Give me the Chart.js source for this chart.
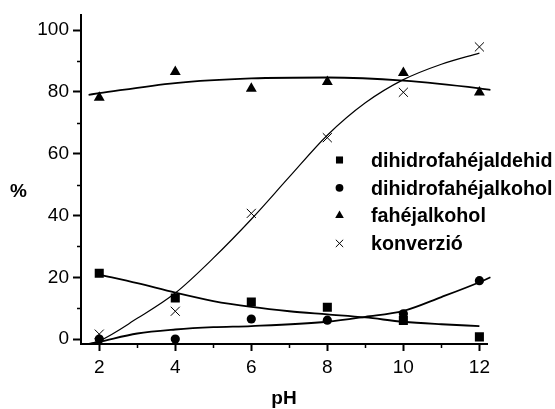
<html><head>
<script src="https://cdn.jsdelivr.net/npm/chart.js@4/dist/chart.umd.min.js"></script>
<style>
  body { margin: 0; background: #fff; }
</style>
</head>
<body>
<canvas id="ph-chart" width="555" height="409"></canvas>
<script>

// measured points
var phValues = [2, 4, 6, 8, 10, 12];
var aldehid = [21.3, 13.3, 12.0, 10.3, 6.0, 0.7];
var alkohol = [0, 0, 6.5, 6.1, 8.2, 18.9];
var fahejalkohol = [78.2, 86.5, 81.1, 83.3, 86.2, 79.9];
var konverzio = [1.6, 9.0, 40.7, 65.2, 79.9, 94.6];

var labels = ["dihidrofahéjaldehid", "dihidrofahéjalkohol", "fahéjalkohol", "konverzió"];

// fitted curves, [pH, %]
var aldehidFit = [[2, 20.9], [3, 18.1], [4, 15.0], [5, 12.3], [6, 10.4], [7, 9.0], [8, 8.0], [9, 7.0], [10, 5.6], [11, 4.8], [12, 4.2]];
var alkoholFit = [[1.72, -1.6], [2, -0.9], [3, 1.8], [4, 3.1], [5, 3.85], [6, 4.2], [8, 5.6], [9, 7.2], [10, 9.1], [11, 13.6], [12, 18.4], [12.29, 20]];
var fahejFit = [[1.72, 79.1], [2, 79.6], [4, 82.9], [6, 84.4], [8, 84.7], [10, 83.7], [12, 81.2], [12.29, 80.7]];
var konverzioFit = [[1.72, -1.6], [2, -0.6], [3, 6.7], [4, 14.9], [5, 26.2], [6, 38.8], [7, 52.5], [8, 66], [9, 76.5], [10, 84], [11, 89], [12, 92.6]];

var xTicks = [2, 4, 6, 8, 10, 12];
var xMinor = [3, 5, 7, 9, 11];
var yTicks = [0, 20, 40, 60, 80, 100];
var yMinor = [10, 30, 50, 70, 90];

var FONT = "'Liberation Sans', Arial, sans-serif";

function pts(ys) {
  return phValues.map(function (x, i) { return { x: x, y: ys[i] }; });
}
function curve(arr) {
  return arr.map(function (p) { return { x: p[0], y: p[1] }; });
}

var markers = [
  { style: 'rect', r: 6.4 },
  { style: 'circle', r: 4.6 },
  { style: 'triangle', r: 6.3 },
  { style: 'crossRot', r: 6.4 }
];

function markerSet(label, ys, m) {
  return {
    type: 'scatter',
    label: label,
    data: pts(ys),
    showLine: false,
    pointStyle: m.style,
    pointRadius: m.r,
    pointBackgroundColor: '#000',
    pointBorderColor: '#000',
    pointBorderWidth: m.style === 'crossRot' ? 1 : 0,
    order: 1
  };
}

function fitLine(arr, width) {
  return {
    type: 'line',
    label: '',
    data: curve(arr),
    borderColor: '#000',
    borderWidth: width,
    pointRadius: 0,
    cubicInterpolationMode: 'monotone',
    fill: false,
    clip: false,
    order: 2
  };
}

// minor ticks, axis titles and the legend block
var extras = {
  id: 'extras',
  afterDraw: function (chart) {
    var ctx = chart.ctx;
    var xs = chart.scales.x, ys = chart.scales.y;
    ctx.save();
    ctx.strokeStyle = '#000';
    ctx.lineWidth = 1.5;
    ctx.beginPath();
    yMinor.forEach(function (v) {
      var py = Math.round(ys.getPixelForValue(v)) + 0.5;
      ctx.moveTo(xs.left - 4, py);
      ctx.lineTo(xs.left, py);
    });
    xMinor.forEach(function (v) {
      var px = Math.round(xs.getPixelForValue(v)) + 0.5;
      ctx.moveTo(px, ys.bottom);
      ctx.lineTo(px, ys.bottom + 4);
    });
    ctx.stroke();

    ctx.fillStyle = '#000';
    ctx.font = 'bold 19px ' + FONT;
    ctx.textAlign = 'center';
    ctx.textBaseline = 'alphabetic';
    ctx.fillText('%', 18.5, 197);
    ctx.fillText('pH', (chart.chartArea.left + chart.chartArea.right) / 2, 404);

    // legend
    var lx = 339.5, ly = 160, step = 27.8;
    ctx.textAlign = 'left';
    ctx.font = 'bold 19.7px ' + FONT;
    chart.data.datasets.forEach(function (ds) {
      if (!ds.label) return;
      var st = ds.pointStyle;
      var r = st === 'circle' ? 3.9 : (st === 'crossRot' ? 5.2 : 5);
      ctx.fillStyle = '#000';
      ctx.strokeStyle = '#000';
      ctx.lineWidth = 1;
      Chart.helpers.drawPoint(ctx, { pointStyle: st, radius: r, borderWidth: st === 'crossRot' ? 1 : 0 }, lx, ly);
      ctx.fillStyle = '#000';
      ctx.fillText(ds.label, 371, ly + 6.8);
      ly += step;
    });
    ctx.restore();
  }
};

var axisGrid = {
  display: true,
  drawOnChartArea: false,
  drawTicks: true,
  tickLength: 8,
  tickWidth: 2,
  tickColor: '#000',
  color: '#000'
};

new Chart(document.getElementById('ph-chart'), {
  data: {
    datasets: [
      markerSet(labels[0], aldehid, markers[0]),
      markerSet(labels[1], alkohol, markers[1]),
      markerSet(labels[2], fahejalkohol, markers[2]),
      markerSet(labels[3], konverzio, markers[3]),
      fitLine(aldehidFit, 1.8),
      fitLine(alkoholFit, 1.8),
      fitLine(fahejFit, 1.8),
      fitLine(konverzioFit, 1.2)
    ]
  },
  options: {
    responsive: false,
    animation: false,
    layout: { padding: { left: 0, right: 68, top: 13, bottom: 0 } },
    plugins: {
      legend: { display: false },
      tooltip: { enabled: false }
    },
    scales: {
      x: {
        type: 'linear',
        min: 1.52,
        max: 12.2,
        border: { display: true, color: '#000', width: 2 },
        grid: Object.assign({}, axisGrid, { tickLength: 7 }),
        ticks: { color: '#000', padding: 5, font: { family: FONT, size: 19 } },
        afterBuildTicks: function (scale) {
          scale.ticks = xTicks.map(function (v) { return { value: v }; });
        },
        afterFit: function (scale) { scale.height = 65; }
      },
      y: {
        type: 'linear',
        min: -1.6,
        max: 104.8,
        border: { display: true, color: '#000', width: 2 },
        grid: axisGrid,
        ticks: { color: '#000', padding: 4, font: { family: FONT, size: 19 } },
        afterBuildTicks: function (scale) {
          scale.ticks = yTicks.map(function (v) { return { value: v }; });
        },
        afterFit: function (scale) { scale.width = 81; }
      }
    }
  },
  plugins: [extras]
});
</script>
</body>
</html>
